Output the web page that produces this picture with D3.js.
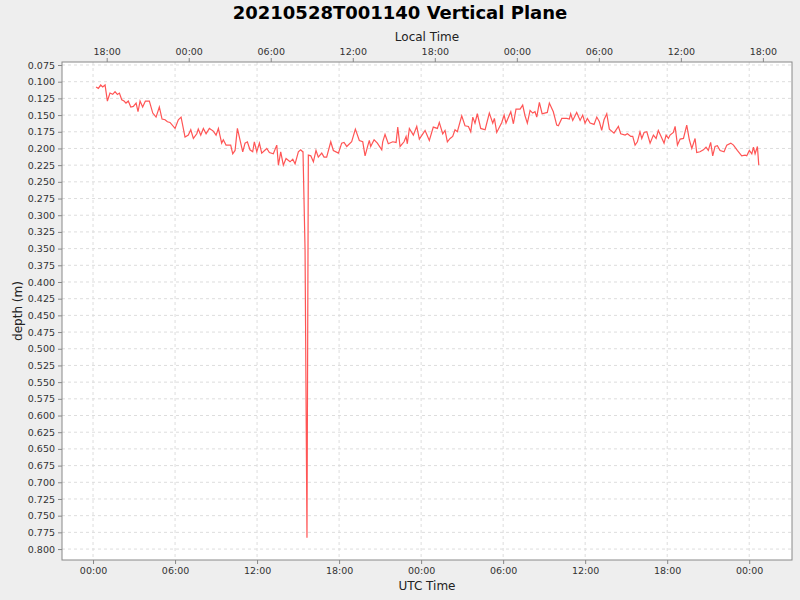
<!DOCTYPE html>
<html><head><meta charset="utf-8">
<script src="https://cdn.jsdelivr.net/npm/d3@7"></script>
<style>body{margin:0;background:#eeeeee;}</style></head>
<body><svg id="c" width="800" height="600"></svg>
<script>
const title = "20210528T001140 Vertical Plane";
// hours since 2021-05-28 00:00 UTC
const hours = [0.22,0.39,0.56,0.71,0.88,1.05,1.24,1.44,1.61,1.78,1.93,2.10,2.27,2.41,2.58,2.76,2.95,3.15,3.29,3.44,3.63,3.83,4.12,4.37,4.61,4.85,5.05,5.27,5.44,5.63,6.0,6.24,6.44,6.73,6.97,7.15,7.34,7.59,7.70,7.88,8.07,8.27,8.51,8.80,9.0,9.17,9.41,9.53,9.73,10.07,10.22,10.39,10.56,10.75,10.95,11.12,11.29,11.48,11.68,11.80,11.98,12.17,12.34,12.71,12.90,13.19,13.44,13.56,13.73,13.92,14.12,14.41,14.61,14.78,15.02,15.19,15.34,
15.36,15.51,15.65,
15.75,15.93,16.12,16.31,16.48,16.73,16.90,17.09,17.39,17.58,17.95,18.19,18.36,18.56,18.92,19.19,19.48,19.73,19.90,20.07,20.21,20.31,20.56,20.80,21.12,21.19,21.36,21.60,21.92,22.17,22.29,22.46,22.75,22.90,22.99,23.14,23.43,23.68,23.87,24.29,24.60,24.89,25.19,25.33,25.58,25.75,25.92,26.12,26.31,26.48,26.65,26.97,27.21,27.46,27.63,27.78,27.94,28.11,28.36,28.68,28.99,29.24,29.36,29.53,29.90,30.07,30.21,30.56,30.75,30.94,31.24,31.43,31.60,31.77,31.97,32.16,32.33,32.46,32.65,32.85,33.23,33.38,
33.67,33.92,34.04,34.29,34.65,34.84,34.94,35.09,35.38,35.63,35.82,35.99,36.16,36.36,36.65,36.85,37.04,37.21,37.38,37.58,37.77,38.11,38.43,38.60,38.92,39.09,39.34,39.48,39.65,39.82,40.01,40.14,40.31,40.51,40.75,40.99,41.19,41.35,41.53,41.77,41.92,42.09,42.21,42.45,42.58,42.75,42.95,43.19,43.43,43.62,43.80,44.04,44.16,44.40,44.65,44.84,45.01,45.18,45.33,45.50,45.67,45.87,46.16,46.36,46.65,46.85,47.13,47.45,47.70,47.82,48.01,48.19,48.31,48.43,48.60,48.70];
const depth = [0.108,0.110,0.105,0.108,0.105,0.129,0.117,0.119,0.115,0.119,0.117,0.127,0.129,0.132,0.129,0.138,0.137,0.132,0.145,0.129,0.138,0.129,0.129,0.147,0.153,0.138,0.156,0.157,0.160,0.161,0.170,0.157,0.153,0.183,0.180,0.172,0.185,0.178,0.171,0.180,0.170,0.178,0.170,0.174,0.180,0.170,0.192,0.187,0.195,0.195,0.208,0.203,0.170,0.187,0.205,0.192,0.190,0.202,0.205,0.190,0.205,0.192,0.207,0.200,0.206,0.208,0.195,0.225,0.205,0.225,0.215,0.220,0.216,0.223,0.205,0.202,0.205,
0.205,0.352,0.783,
0.210,0.211,0.220,0.203,0.213,0.207,0.213,0.213,0.190,0.203,0.207,0.192,0.191,0.197,0.190,0.171,0.188,0.190,0.211,0.198,0.188,0.197,0.187,0.192,0.202,0.190,0.179,0.193,0.190,0.191,0.168,0.197,0.190,0.182,0.193,0.170,0.180,0.167,0.186,0.173,0.188,0.168,0.170,0.161,0.178,0.173,0.190,0.185,0.182,0.172,0.175,0.151,0.166,0.167,0.175,0.153,0.162,0.148,0.170,0.172,0.147,0.162,0.155,0.176,0.161,0.150,0.162,0.145,0.163,0.141,0.141,0.135,0.151,0.162,0.143,0.147,0.145,0.153,0.131,0.148,0.146,0.132,
0.145,0.165,0.166,0.155,0.155,0.156,0.148,0.158,0.146,0.158,0.150,0.162,0.155,0.162,0.164,0.153,0.160,0.173,0.157,0.148,0.171,0.177,0.167,0.178,0.180,0.178,0.182,0.182,0.195,0.190,0.175,0.185,0.176,0.175,0.192,0.180,0.185,0.173,0.181,0.192,0.180,0.185,0.180,0.176,0.167,0.195,0.186,0.185,0.165,0.187,0.200,0.185,0.206,0.205,0.202,0.198,0.203,0.191,0.211,0.197,0.196,0.203,0.205,0.195,0.192,0.195,0.203,0.211,0.210,0.211,0.203,0.208,0.198,0.208,0.197,0.225];
const utcTicks = [0,6,12,18,24,30,36,42,48];
const localTicks = [1,7,13,19,25,31,37,43,49]; // UTC hours of local 18,00,06,12 (UTC-7)
const depthTicks = d3.range(0,30).map(i=>+(0.075+i*0.025).toFixed(3));

const svg = d3.select("#c");
const L=62,R=792,T=62,B=560;
const x = d3.scaleLinear().domain([-2.27,51.13]).range([L,R]);
const y = d3.scaleLinear().domain([0.0705,0.8164]).range([T,B]);
const fmt = h => String(((h%24)+24)%24).padStart(2,"0")+":00";
const fmtL = h => String((((h-7)%24)+24)%24).padStart(2,"0")+":00";

svg.append("rect").attr("x",L).attr("y",T).attr("width",R-L).attr("height",B-T).attr("fill","#fff");
const g = svg.append("g").attr("stroke","#dddddd").attr("stroke-dasharray","3,3").attr("stroke-width",1);
utcTicks.forEach(t=>g.append("line").attr("x1",x(t)).attr("x2",x(t)).attr("y1",T).attr("y2",B));
depthTicks.forEach(t=>g.append("line").attr("x1",L).attr("x2",R).attr("y1",y(t)).attr("y2",y(t)));

const line = d3.line().x((d,i)=>x(hours[i])).y(d=>y(d));
svg.append("path").datum(depth).attr("d",line).attr("fill","none").attr("stroke","#ff5555").attr("stroke-width",1.2);

svg.append("rect").attr("x",L).attr("y",T).attr("width",R-L).attr("height",B-T).attr("fill","none").attr("stroke","#888");

const style = s => s.selectAll("text").attr("font-family","DejaVu Sans").attr("font-size","9.5px").attr("fill","#333");
const ax1 = svg.append("g").attr("transform",`translate(0,${B})`).call(d3.axisBottom(x).tickValues(utcTicks).tickFormat(fmt).tickSize(4).tickSizeOuter(0));
const ax2 = svg.append("g").attr("transform",`translate(0,${T})`).call(d3.axisTop(x).tickValues(localTicks).tickFormat(fmtL).tickSize(4).tickSizeOuter(0));
const ax3 = svg.append("g").attr("transform",`translate(${L},0)`).call(d3.axisLeft(y).tickValues(depthTicks).tickFormat(d3.format(".3f")).tickSize(4).tickSizeOuter(0));
[ax1,ax2,ax3].forEach(a=>{style(a);a.select(".domain").remove();a.selectAll("line").attr("stroke","#888");});

svg.append("text").attr("x",400).attr("y",19).attr("text-anchor","middle").attr("font-family","DejaVu Sans").attr("font-weight","bold").attr("font-size","18px").text(title);
svg.append("text").attr("x",427).attr("y",41).attr("text-anchor","middle").attr("font-family","DejaVu Sans").attr("font-size","12px").attr("fill","#222").text("Local Time");
svg.append("text").attr("x",427).attr("y",590).attr("text-anchor","middle").attr("font-family","DejaVu Sans").attr("font-size","12px").attr("fill","#222").text("UTC Time");
svg.append("text").attr("transform","translate(22,311) rotate(-90)").attr("text-anchor","middle").attr("font-family","DejaVu Sans").attr("font-size","12px").attr("fill","#222").text("depth (m)");
</script></body></html>
